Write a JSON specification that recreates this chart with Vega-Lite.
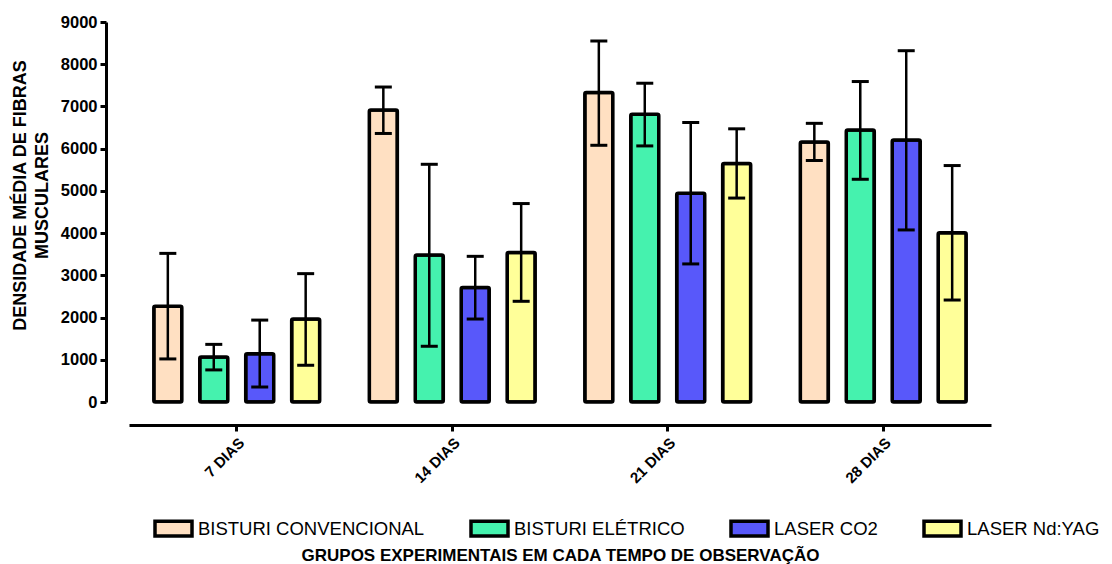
{
  "$schema": "https://vega.github.io/schema/vega-lite/v6.json",
  "autosize": "none",
  "width": 862,
  "height": 380,
  "padding": {"left": 129, "top": 22, "right": 121, "bottom": 162},
  "background": "white",
  "config": {
    "view": {"stroke": null},
    "axis": {"grid": false, "domainColor": "black", "tickColor": "black", "domainWidth": 3, "tickWidth": 3, "tickSize": 6, "labelColor": "black", "titleColor": "black", "labelFont": "Liberation Sans", "titleFont": "Liberation Sans", "labelFontWeight": "bold", "titleFontWeight": "bold"}
  },
  "data": {
    "values": [
      {"dia": "7 DIAS", "grupo": "BISTURI CONVENCIONAL", "media": 2270, "inferior": 1020, "superior": 3520},
      {"dia": "7 DIAS", "grupo": "BISTURI ELÉTRICO", "media": 1065, "inferior": 760, "superior": 1365},
      {"dia": "7 DIAS", "grupo": "LASER CO2", "media": 1145, "inferior": 355, "superior": 1940},
      {"dia": "7 DIAS", "grupo": "LASER Nd:YAG", "media": 1965, "inferior": 870, "superior": 3040},
      {"dia": "14 DIAS", "grupo": "BISTURI CONVENCIONAL", "media": 6915, "inferior": 6360, "superior": 7460},
      {"dia": "14 DIAS", "grupo": "BISTURI ELÉTRICO", "media": 3480, "inferior": 1320, "superior": 5630},
      {"dia": "14 DIAS", "grupo": "LASER CO2", "media": 2710, "inferior": 1965, "superior": 3450},
      {"dia": "14 DIAS", "grupo": "LASER Nd:YAG", "media": 3540, "inferior": 2385, "superior": 4700},
      {"dia": "21 DIAS", "grupo": "BISTURI CONVENCIONAL", "media": 7330, "inferior": 6080, "superior": 8550},
      {"dia": "21 DIAS", "grupo": "BISTURI ELÉTRICO", "media": 6815, "inferior": 6065, "superior": 7550},
      {"dia": "21 DIAS", "grupo": "LASER CO2", "media": 4945, "inferior": 3270, "superior": 6620},
      {"dia": "21 DIAS", "grupo": "LASER Nd:YAG", "media": 5650, "inferior": 4830, "superior": 6470},
      {"dia": "28 DIAS", "grupo": "BISTURI CONVENCIONAL", "media": 6160, "inferior": 5720, "superior": 6600},
      {"dia": "28 DIAS", "grupo": "BISTURI ELÉTRICO", "media": 6440, "inferior": 5275, "superior": 7590},
      {"dia": "28 DIAS", "grupo": "LASER CO2", "media": 6205, "inferior": 4075, "superior": 8320},
      {"dia": "28 DIAS", "grupo": "LASER Nd:YAG", "media": 4010, "inferior": 2415, "superior": 5600}
    ]
  },
  "encoding": {
    "x": {
      "field": "dia", "type": "nominal",
      "sort": ["7 DIAS", "14 DIAS", "21 DIAS", "28 DIAS"],
      "scale": {"paddingInner": 0, "paddingOuter": 0},
      "axis": {
        "title": "GRUPOS EXPERIMENTAIS EM CADA TEMPO DE OBSERVAÇÃO",
        "titleFontSize": 17,
        "titleY": 122,
        "titleBaseline": "top",
        "offset": 23,
        "labelAngle": -45,
        "labelFontSize": 15,
        "labelPadding": 4
      }
    },
    "xOffset": {
      "field": "grupo", "type": "nominal",
      "sort": ["BISTURI CONVENCIONAL", "BISTURI ELÉTRICO", "LASER CO2", "LASER Nd:YAG"],
      "scale": {"paddingInner": 0.39, "paddingOuter": 0.54}
    }
  },
  "layer": [
    {
      "mark": {"type": "bar", "stroke": "black", "strokeWidth": 3.5, "cornerRadius": 1.5},
      "encoding": {
        "y": {
          "field": "media", "type": "quantitative",
          "scale": {"domain": [0, 9000], "nice": false},
          "axis": {
            "title": ["DENSIDADE MÉDIA DE FIBRAS", "MUSCULARES"],
            "titleFontSize": 18,
            "titleLineHeight": 22,
            "titleY": 173,
            "titlePadding": 9,
            "offset": 23,
            "values": [0, 1000, 2000, 3000, 4000, 5000, 6000, 7000, 8000, 9000],
            "labelFontSize": 16.5,
            "labelPadding": 3,
            "format": "d"
          }
        },
        "color": {
          "field": "grupo", "type": "nominal",
          "sort": ["BISTURI CONVENCIONAL", "BISTURI ELÉTRICO", "LASER CO2", "LASER Nd:YAG"],
          "scale": {"domain": ["BISTURI CONVENCIONAL", "BISTURI ELÉTRICO", "LASER CO2", "LASER Nd:YAG"], "range": ["#FFE0C2", "#45F2AE", "#5858FA", "#FFFF99"]},
          "legend": {
            "title": null,
            "orient": "none",
            "legendX": 24,
            "legendY": 486,
            "direction": "horizontal",
            "columns": 4,
            "columnPadding": 39,
            "padding": 0,
            "symbolType": "M-1,-0.4H1V0.4H-1Z",
            "symbolSize": 1369,
            "symbolStrokeColor": "black",
            "symbolStrokeWidth": 3.5,
            "symbolOpacity": 1,
            "labelFont": "Liberation Sans",
            "labelFontSize": 18.5,
            "labelColor": "black",
            "labelOffset": 4,
            "labelLimit": 400
          }
        }
      }
    },
    {
      "mark": {"type": "rule", "color": "black", "strokeWidth": 2.5},
      "encoding": {
        "y": {"field": "inferior", "type": "quantitative"},
        "y2": {"field": "superior"}
      }
    },
    {
      "mark": {"type": "tick", "color": "black", "thickness": 3, "size": 17, "opacity": 1},
      "encoding": {"y": {"field": "superior", "type": "quantitative"}}
    },
    {
      "mark": {"type": "tick", "color": "black", "thickness": 3, "size": 17, "opacity": 1},
      "encoding": {"y": {"field": "inferior", "type": "quantitative"}}
    }
  ]
}
